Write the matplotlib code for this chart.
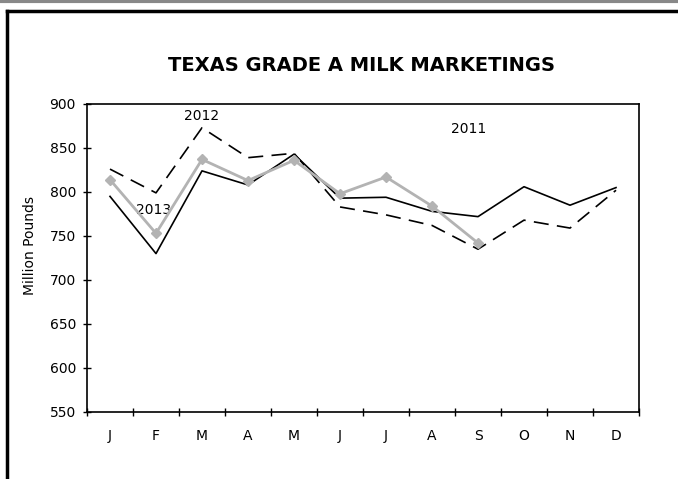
import matplotlib
matplotlib.use("Agg")
import matplotlib.pyplot as plt
from matplotlib.lines import Line2D

plt.rcParams["font.family"] = ["DejaVu Sans"]

months = ["J", "F", "M", "A", "M", "J", "J", "A", "S", "O", "N", "D"]
y2011 = [795, 730, 824, 808, 843, 793, 794, 778, 772, 806, 785, 805]
y2012 = [826, 799, 873, 839, 844, 783, 774, 762, 735, 768, 759, 802]
y2013 = [814, 753, 837, 813, 836, 798, 817, 784, 742]
yticks = [550, 600, 650, 700, 750, 800, 850, 900]

fig = plt.figure(figsize=(6.78, 4.79), dpi=100)
ax = fig.add_axes([0.1283, 0.1399, 0.8142, 0.643])

x = list(range(len(months)))
ax.plot(x, y2011, color="black", lw=1.2, zorder=3)
ax.plot(x, y2012, color="black", lw=1.2, ls=(0, (9, 5)), zorder=3)
ax.plot(x[:len(y2013)], y2013, color="#b3b3b3", lw=2.0, marker="D", ms=5,
        mfc="#b3b3b3", mec="#b3b3b3", zorder=4)

ax.text(0.95, 779, "2013", fontsize=10, ha="center", va="center")
ax.text(2.0, 886, "2012", fontsize=10, ha="center", va="center")
ax.text(7.8, 872, "2011", fontsize=10, ha="center", va="center")

ax.set_xlim(-0.5, 11.5)
ax.set_ylim(550, 900)
ax.set_yticks(yticks)
ax.set_xticks([i - 0.5 for i in range(13)])
ax.set_xticklabels([])
ax.set_xticks(x, minor=True)
ax.set_xticklabels(months, minor=True)
ax.tick_params(axis="x", which="minor", length=0, pad=12, labelsize=10)
ax.tick_params(axis="x", which="major", direction="inout", length=6, width=1)
ax.tick_params(axis="y", direction="inout", length=6, width=1, labelsize=10, pad=5)
for s in ax.spines.values():
    s.set_linewidth(1.2)

ax.set_ylabel("Million Pounds", fontsize=10)
ax.yaxis.set_label_coords(-0.09, 0.54)
fig.text(0.533, 0.863, "TEXAS GRADE A MILK MARKETINGS", fontsize=14,
         fontweight="bold", ha="center", va="center")

# page frame
fig.add_artist(Line2D([0, 1], [0.997, 0.997], transform=fig.transFigure,
                      color="#888888", lw=3))
fig.add_artist(Line2D([0.010, 1], [0.977, 0.977], transform=fig.transFigure,
                      color="black", lw=2.5))
fig.add_artist(Line2D([0.010, 0.010], [0, 0.977], transform=fig.transFigure,
                      color="black", lw=2.5))

fig.savefig("out.png", dpi=100)
